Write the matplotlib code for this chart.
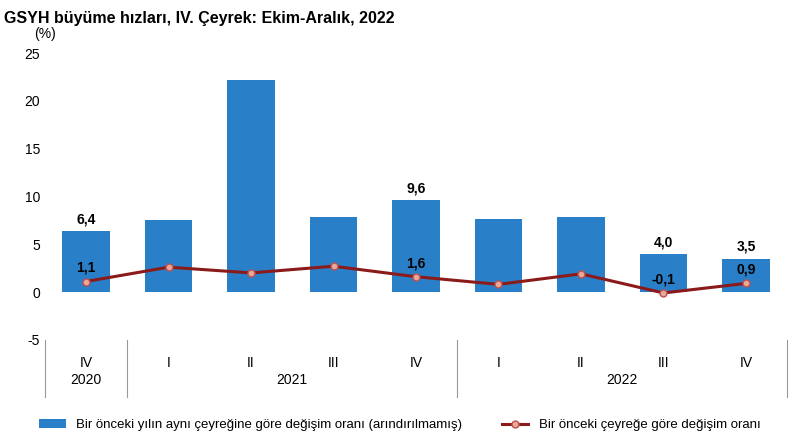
import matplotlib
matplotlib.use("Agg")
import matplotlib.pyplot as plt

plt.rcParams["font.family"] = ["Liberation Sans", "DejaVu Sans"]
plt.rcParams["axes.unicode_minus"] = False

quarters = ["IV", "I", "II", "III", "IV", "I", "II", "III", "IV"]
years = ["2020", "2021", "2022"]
year_spans = [(0, 0), (1, 4), (5, 8)]
annual = [6.4, 7.5, 22.2, 7.9, 9.6, 7.6, 7.8, 4.0, 3.5]
quarterly = [1.1, 2.6, 2.0, 2.7, 1.6, 0.8, 1.9, -0.1, 0.9]
bar_labels = {0: "6,4", 4: "9,6", 7: "4,0", 8: "3,5"}
line_labels = {0: "1,1", 4: "1,6", 7: "-0,1", 8: "0,9"}

fig = plt.figure(figsize=(8, 4.43), dpi=100)
ax = fig.add_axes([0.056, 0.233, 0.928, 0.647])
x = list(range(len(annual)))
b = ax.bar(x, annual, width=0.58, color="#2a7fc9", zorder=2)
l, = ax.plot(x, quarterly, color="#8b1a1a", lw=2.2, marker="o", ms=5, mfc="#e8a89a", mec="#c0504d", zorder=3)
for i, t in bar_labels.items():
    ax.text(i, annual[i] + 0.5, t, ha="center", va="bottom", fontsize=10, fontweight="bold")
for i, t in line_labels.items():
    ax.text(i, quarterly[i] + 0.7, t, ha="center", va="bottom", fontsize=10, fontweight="bold")
ax.set_ylim(-5, 25)
ax.set_xlim(-0.5, 8.5)
ax.set_yticks(range(-5, 30, 5))
ax.tick_params(axis="y", length=0, labelsize=10)
ax.set_xticks(x)
ax.set_xticklabels(quarters, fontsize=10)
ax.tick_params(axis="x", length=0, pad=12)
for s in ax.spines.values():
    s.set_visible(False)
for bd in [-0.5, 0.5, 4.5, 8.5]:
    ax.plot([bd, bd], [-5, -11], color="#999999", lw=0.8, clip_on=False)
for (a, c), y in zip(year_spans, years):
    ax.text((a + c) / 2, -9.2, y, ha="center", va="center", fontsize=10)
ax.text(-0.5, 26.3, "(%)", ha="center", va="bottom", fontsize=10)
fig.text(0.005, 0.975, "GSYH büyüme hızları, IV. Çeyrek: Ekim-Aralık, 2022", fontsize=11.5, fontweight="bold", va="top")
fig.legend([b, l], ["Bir önceki yılın aynı çeyreğine göre değişim oranı (arındırılmamış)",
                    "Bir önceki çeyreğe göre değişim oranı"],
           loc="lower center", bbox_to_anchor=(0.5, 0.0), ncol=2, frameon=False, fontsize=9.5, columnspacing=3)
fig.savefig("out.png", dpi=100)
